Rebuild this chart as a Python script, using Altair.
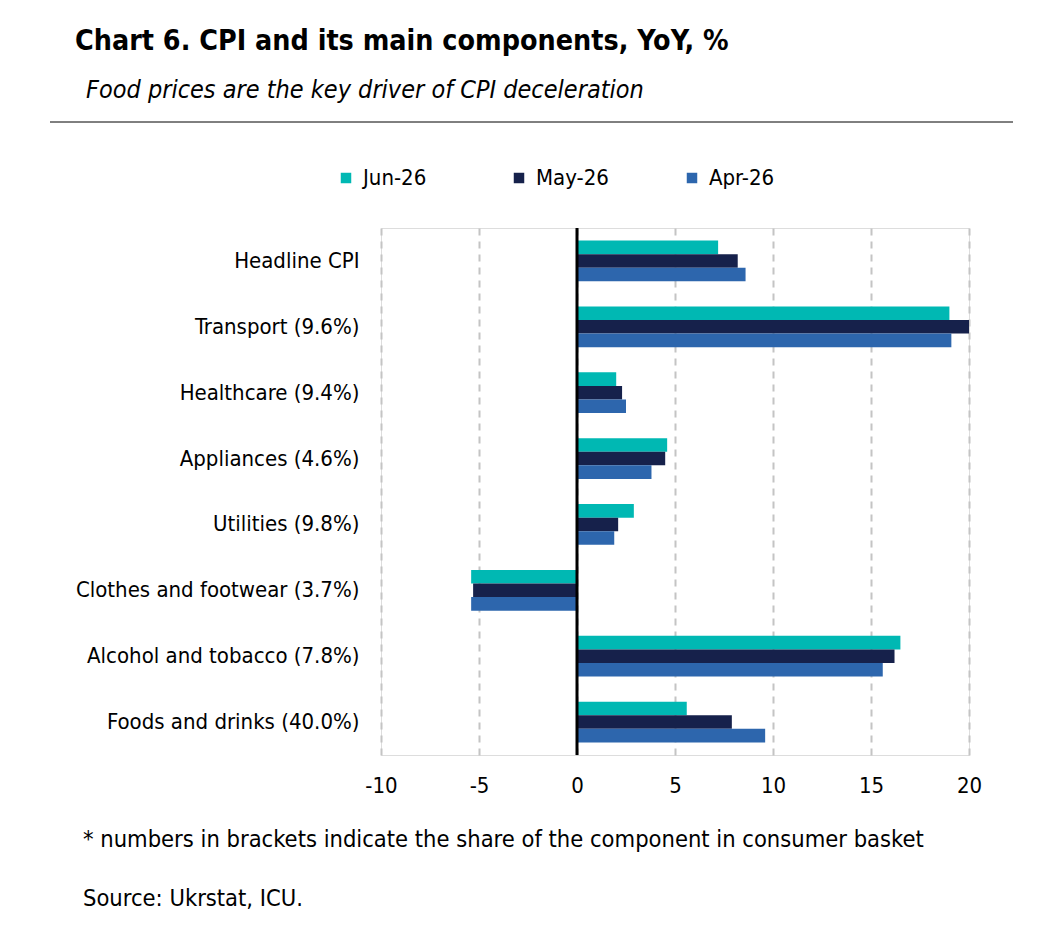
import altair as alt
import pandas as pd

categories = ["Headline CPI", "Transport (9.6%)", "Healthcare (9.4%)", "Appliances (4.6%)",
              "Utilities (9.8%)", "Clothes and footwear (3.7%)", "Alcohol and tobacco (7.8%)",
              "Foods and drinks (40.0%)"]
series = ["Jun-26", "May-26", "Apr-26"]
jun = [7.2, 19.0, 2.0, 4.6, 2.9, -5.4, 16.5, 5.6]
may = [8.2, 20.0, 2.3, 4.5, 2.1, -5.3, 16.2, 7.9]
apr = [8.6, 19.1, 2.5, 3.8, 1.9, -5.4, 15.6, 9.6]
colors = ["#00B8B3", "#16214B", "#2D66AD"]
x_ticks = [-10, -5, 0, 5, 10, 15, 20]

title = "Chart 6. CPI and its main components, YoY, %"
subtitle = "Food prices are the key driver of CPI deceleration"
note = "* numbers in brackets indicate the share of the component in consumer basket"
source = "Source: Ukrstat, ICU."

rows = []
for s, vals in zip(series, [jun, may, apr]):
    for c, v in zip(categories, vals):
        rows.append({"category": c, "series": s, "value": v})
df = pd.DataFrame(rows)

FONT = "Liberation Sans Narrow, DejaVu Sans Condensed, sans-serif"

W, H = 588, 527
L, T = 381, 228

bars = alt.Chart(df).mark_bar().encode(
    y=alt.Y("category:N", sort=categories, title=None,
            scale=alt.Scale(paddingInner=0.38, paddingOuter=0.19),
            axis=alt.Axis(domain=False, ticks=False, labelFontSize=22, labelFont=FONT,
                          labelColor="#000000", labelPadding=22, labelLimit=400)),
    yOffset=alt.YOffset("series:N", sort=series),
    x=alt.X("value:Q", title=None,
            scale=alt.Scale(domain=[-10, 20], nice=False, zero=False),
            axis=alt.Axis(values=x_ticks, domain=False, ticks=False, grid=True,
                          gridDash=[7, 6], gridColor="#C4C4C4", gridWidth=2,
                          labelExpr="toString(datum.value)", labelFlush=False,
                          labelFontSize=22, labelFont=FONT, labelColor="#000000",
                          labelPadding=20)),
    color=alt.Color("series:N", sort=series,
                    scale=alt.Scale(domain=series, range=colors),
                    legend=alt.Legend(title=None, orient="none", direction="horizontal",
                                      legendX=-46, legendY=-61, symbolType="square",
                                      symbolSize=110, symbolStrokeWidth=0,
                                      labelFontSize=22, labelFont=FONT, labelColor="#000000",
                                      columnPadding=72, gridAlign="all", labelOffset=6)),
)

zero = alt.Chart(pd.DataFrame({"x": [0]})).mark_rule(color="#000000", strokeWidth=3).encode(
    x=alt.X("x:Q"))

def txt(t, x, y, size, weight="normal", style="normal"):
    return alt.Chart(pd.DataFrame({"t": [t]})).mark_text(
        align="left", baseline="alphabetic", fontSize=size, font=FONT,
        fontWeight=weight, fontStyle=style, color="#000000").encode(
        text="t:N", x=alt.value(x - L), y=alt.value(y - T))

t1 = txt(title, 75, 50, 28.4, weight="bold")
t2 = txt(subtitle, 86, 98, 25, style="italic")
t3 = txt(note, 83, 847, 23.5)
t4 = txt(source, 83, 906, 23.5)
line = alt.Chart(pd.DataFrame({"a": [0]})).mark_rule(color="#000000", strokeWidth=1).encode(
    x=alt.value(50 - L), x2=alt.value(1013 - L), y=alt.value(122 - T))

chart = alt.layer(bars, zero, t1, t2, t3, t4, line).properties(
    width=W, height=H,
    autosize=alt.AutoSizeParams(type="none"),
    padding={"left": L, "top": T, "right": 1038 - L - W, "bottom": 939 - T - H},
).configure_view(stroke=None).configure(background="#FFFFFF")

chart.save("out.html", embed_options={"renderer": "svg", "actions": False})
